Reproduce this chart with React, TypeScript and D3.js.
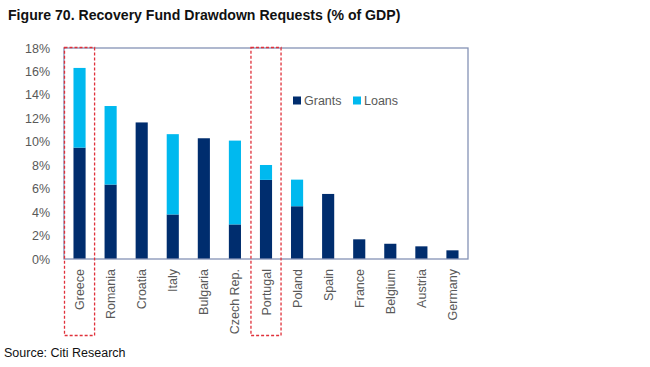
import React from "react";
import * as d3 from "d3";

const categories = ["Greece","Romania","Croatia","Italy","Bulgaria","Czech Rep.","Portugal","Poland","Spain","France","Belgium","Austria","Germany"];
const grants = [9.5, 6.35, 11.65, 3.8, 10.3, 2.95, 6.75, 4.5, 5.55, 1.68, 1.3, 1.08, 0.74];
const loans = [6.8, 6.7, 0, 6.85, 0, 7.15, 1.27, 2.27, 0, 0, 0, 0, 0];
const yTicks = [0, 2, 4, 6, 8, 10, 12, 14, 16, 18];
const highlighted = ["Greece", "Portugal"];

const W = 650, H = 367;
const L = 64, R = 468, T = 48, B = 259;
const DARK = "#002D6E", LIGHT = "#00B9EF", GRAY = "#595959", FRAME = "#8593B5";
const FONT = "Liberation Sans, Arial, sans-serif";

export default function App() {
  const x = d3.scaleBand<string>().domain(categories).range([L, R]).paddingInner(0.61).paddingOuter(0.305);
  const y = d3.scaleLinear().domain([0, 18]).range([B, T]);
  const band = x.step();
  return (
    <svg width={W} height={H} style={{ position: "absolute", left: 0, top: 0 }} fontFamily={FONT}>
      <rect width={W} height={H} fill="#fff" />
      <text x={8} y={20} fontSize={14.1} fontWeight="bold" fill="#111">Figure 70. Recovery Fund Drawdown Requests (% of GDP)</text>
      {yTicks.map(t => (
        <text key={t} x={50} y={y(t) + 4.5} fontSize={12.5} fill={GRAY} textAnchor="end">{t}%</text>
      ))}
      {categories.map((c, i) => (
        <g key={c}>
          <rect x={x(c)!} y={y(grants[i])} width={x.bandwidth()} height={B - y(grants[i])} fill={DARK} />
          {loans[i] > 0 && (
            <rect x={x(c)!} y={y(grants[i] + loans[i])} width={x.bandwidth()} height={y(grants[i]) - y(grants[i] + loans[i])} fill={LIGHT} />
          )}
          <text transform={`translate(${x(c)! + x.bandwidth() / 2 + 4.5},${B + 10}) rotate(-90)`} textAnchor="end" fontSize={12.5} fill={GRAY}>{c}</text>
        </g>
      ))}
      <rect x={L} y={T} width={R - L} height={B - T} fill="none" stroke={FRAME} strokeWidth={1.3} />
      {highlighted.map(c => {
        const cx = x(c)! + x.bandwidth() / 2;
        return (
          <rect key={c} x={cx - band / 2 + 0.5} y={T - 0.5} width={band - 1} height={336 - T} fill="none" stroke="#E0303A" strokeWidth={1.3} strokeDasharray="3,2" />
        );
      })}
      <rect x={293} y={96.5} width={8} height={8} fill={DARK} />
      <text x={304} y={105} fontSize={12.5} fill={GRAY}>Grants</text>
      <rect x={353} y={96.5} width={8} height={8} fill={LIGHT} />
      <text x={364} y={105} fontSize={12.5} fill={GRAY}>Loans</text>
      <text x={4} y={357} fontSize={12.5} fill="#111">Source: Citi Research</text>
    </svg>
  );
}
